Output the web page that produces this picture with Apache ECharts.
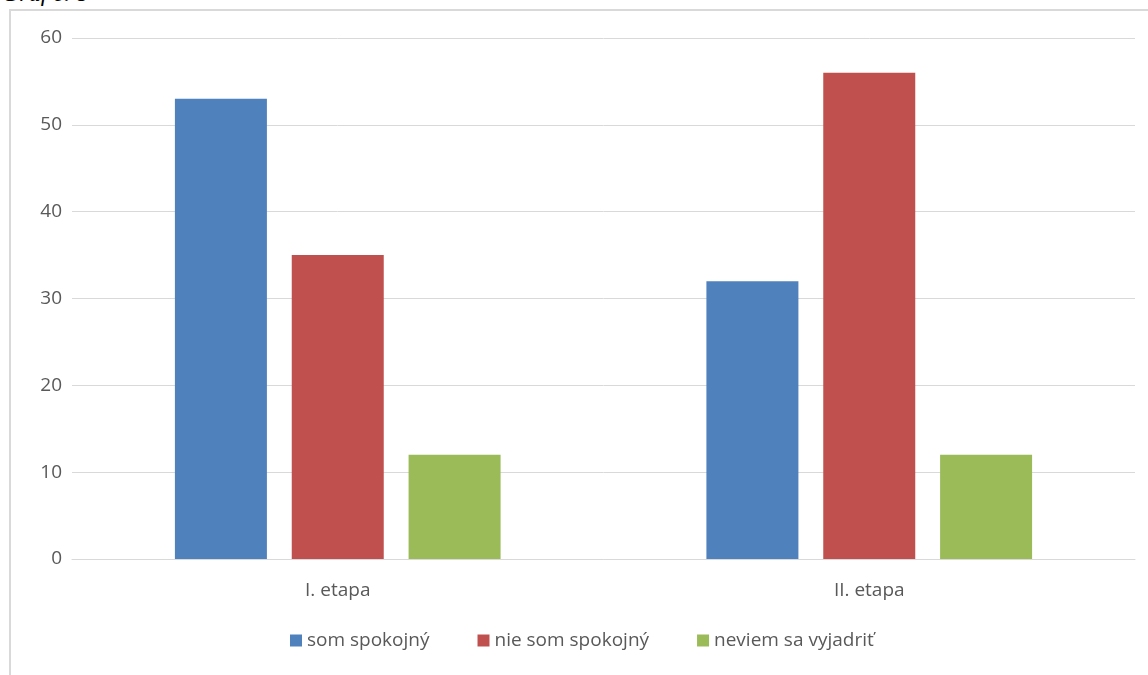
<!DOCTYPE html>
<html>
<head>
<meta charset="utf-8">
<script src="https://cdn.jsdelivr.net/npm/echarts@6/dist/echarts.min.js"></script>
<style>
  html, body { margin: 0; padding: 0; background: #fff; }
  .frame {
    position: absolute; left: 9px; top: 9px; width: 1160px; height: 700px;
    border: 2px solid #d9d9d9; box-sizing: border-box;
  }
  .caption {
    position: absolute; left: 2px; top: -20px;
    font-family: 'Liberation Serif', serif; font-style: italic; font-size: 24px; color: #000;
  }
  #chart { position: absolute; left: 0; top: 0; width: 1148px; height: 675px; }
</style>
</head>
<body>
<div class="caption">Graf č. 8</div>
<div class="frame"></div>
<div id="chart"></div>
<script>
  const categories = ['I. etapa', 'II. etapa'];
  const seriesNames = ['som spokojný', 'nie som spokojný', 'neviem sa vyjadriť'];
  const spokojny = [53, 32];
  const nespokojny = [35, 56];
  const neviem = [12, 12];
  const colors = ['#4f81bd', '#c0504d', '#9bbb59'];

  const chart = echarts.init(document.getElementById('chart'));
  const font = 'Open Sans, Noto Sans, sans-serif';
  chart.setOption({
    animation: false,
    color: colors,
    legend: {
      data: seriesNames,
      bottom: 20,
      left: 285,
      icon: 'rect',
      itemWidth: 12,
      itemHeight: 12,
      itemGap: 48,
      textStyle: { color: '#595959', fontSize: 19, fontFamily: font }
    },
    grid: {
      left: 72,
      right: 13,
      top: 38,
      bottom: 116
    },
    xAxis: {
      type: 'category',
      data: categories,
      axisLine: { lineStyle: { color: '#d9d9d9' } },
      axisTick: { show: false },
      axisLabel: { color: '#595959', fontSize: 19, fontFamily: font, margin: 22 }
    },
    yAxis: {
      type: 'value',
      min: 0,
      max: 60,
      interval: 10,
      axisLine: { show: false },
      axisTick: { show: false },
      splitLine: { lineStyle: { color: '#d9d9d9' } },
      axisLabel: { color: '#595959', fontSize: 19, fontFamily: font, margin: 10 }
    },
    series: [
      { name: seriesNames[0], type: 'bar', data: spokojny, barWidth: 92, barGap: '27%' },
      { name: seriesNames[1], type: 'bar', data: nespokojny, barWidth: 92, barGap: '27%' },
      { name: seriesNames[2], type: 'bar', data: neviem, barWidth: 92, barGap: '27%' }
    ]
  });
</script>
</body>
</html>
